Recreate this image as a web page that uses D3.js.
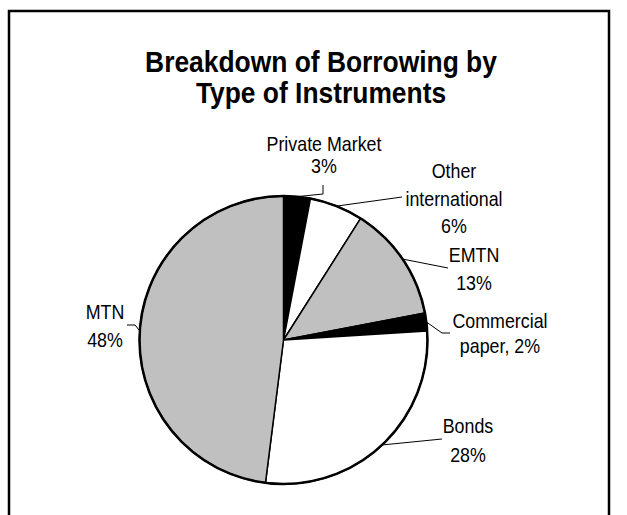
<!DOCTYPE html>
<html lang="en">
<head>
  <meta charset="UTF-8" />
  <title>Breakdown of Borrowing by Type of Instruments</title>
  <script src="https://d3js.org/d3.v7.min.js"></script>
  <style>
    body {
      background: #fff;
      margin: 0;
      padding: 0;
      overflow: hidden;
      font-family: "Liberation Sans Narrow", "Arial Narrow", "Liberation Sans", sans-serif;
    }
  </style>
</head>
<body>
  <div id="viz"></div>
  <script>
    const categories = ["Private Market", "Other international", "EMTN", "Commercial paper", "Bonds", "MTN"];
    const shares = [3, 6, 13, 2, 28, 48];
    const labelLines = [
      ["Private Market", "3%"],
      ["Other", "international", "6%"],
      ["EMTN", "13%"],
      ["Commercial", "paper, 2%"],
      ["Bonds", "28%"],
      ["MTN", "48%"]
    ];
    const titleLines = ["Breakdown of Borrowing by", "Type of Instruments"];

    const width = 627, height = 515;
    const cx = 283.5, cy = 340, radius = 144;
    const fills = ["#000", "#fff", "#c0c0c0", "#000", "#fff", "#c0c0c0"];
    const narrow = 0.85; // no condensed font installed, squeeze horizontally

    // where each label sits and where its leader line bends (page coords)
    const labelLayout = [
      { x: 324, y: 151, dy: 22, bend: [[323, 194], [323, 185]] },
      { x: 454, y: 178, dy: 27.5, bend: [[402, 197]] },
      { x: 474, y: 262, dy: 28, bend: [[448, 268]] },
      { x: 500, y: 328, dy: 25, bend: [[442, 333], [450, 333]] },
      { x: 468, y: 433, dy: 29, bend: [[442, 439]] },
      { x: 105, y: 319, dy: 28, bend: [[135, 325], [127, 325]] }
    ];

    const svg = d3.select("#viz")
      .append("svg")
      .attr("width", width)
      .attr("height", height);

    svg.append("rect")
      .attr("x", 9).attr("y", 11)
      .attr("width", 600).attr("height", 600)
      .attr("fill", "none")
      .attr("stroke", "#000")
      .attr("stroke-width", 2.5);

    svg.selectAll(".title")
      .data(titleLines)
      .enter()
      .append("text")
      .attr("class", "title")
      .attr("transform", (_, i) => `translate(321,${72 + i * 31}) scale(0.91,1)`)
      .attr("text-anchor", "middle")
      .style("font-size", "29px")
      .style("font-weight", "bold")
      .text(d => d);

    const pie = d3.pie().sort(null).value(d => d);
    const arcs = pie(shares);
    const arc = d3.arc().innerRadius(0).outerRadius(radius);
    const edge = d3.arc().innerRadius(radius).outerRadius(radius);

    const g = svg.append("g").attr("transform", `translate(${cx},${cy})`);

    g.selectAll(".slice")
      .data(arcs)
      .enter()
      .append("path")
      .attr("class", "slice")
      .attr("d", arc)
      .attr("fill", (_, i) => fills[i])
      .attr("stroke", "#000")
      .attr("stroke-width", 1.5)
      .attr("stroke-linejoin", "round");

    g.append("circle")
      .attr("r", radius)
      .attr("fill", "none")
      .attr("stroke", "#000")
      .attr("stroke-width", 2.5);

    const line = d3.line();
    arcs.forEach((a, i) => {
      const [ex, ey] = edge.centroid(a);
      const pts = [[cx + ex, cy + ey]].concat(labelLayout[i].bend);
      svg.append("path")
        .attr("d", line(pts))
        .attr("fill", "none")
        .attr("stroke", "#000")
        .attr("stroke-width", 1);

      const lay = labelLayout[i];
      svg.selectAll(null)
        .data(labelLines[i])
        .enter()
        .append("text")
        .attr("transform", (_, k) => `translate(${lay.x},${lay.y + k * lay.dy}) scale(${narrow},1)`)
        .attr("text-anchor", "middle")
        .style("font-size", "21px")
        .text(d => d);
    });
  </script>
</body>
</html>
